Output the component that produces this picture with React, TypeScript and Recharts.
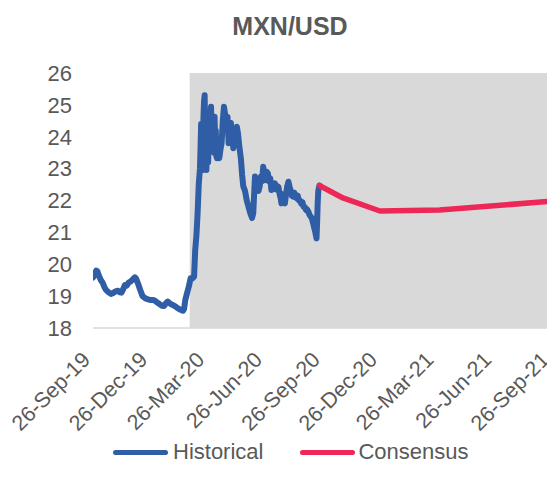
import React from 'react';
import { LineChart, Line, XAxis, YAxis, ReferenceArea } from 'recharts';

// x values are day offsets from 26-Sep-19
const tickDays = [0, 91, 182, 274, 366, 457, 547, 639, 731];
const tickLabels = ['26-Sep-19', '26-Dec-19', '26-Mar-20', '26-Jun-20', '26-Sep-20', '26-Dec-20', '26-Mar-21', '26-Jun-21', '26-Sep-21'];
const yTicks = [18, 19, 20, 21, 22, 23, 24, 25, 26];
const shadeStartDay = 154;

const histDays = [
  0, 2.4, 5.2, 7, 9.8, 12.6, 15.4, 18.2, 21, 24.8, 28.5, 32.2, 36, 39.7, 42.5, 45.3, 48.1, 50.9, 53.7, 56.5, 59.3, 62.1,
  64.9, 66.7, 68.6, 71.4, 75.1, 78.9, 83.5, 87.3,
  91.9, 95.7, 98.5, 102.2, 105.9, 109.7, 113.4, 116.2, 119, 121.8, 124.6, 127.4, 131.1, 134.9, 138.6, 143.2, 145.1, 147,
  149.8, 152.6, 155.4, 158.2, 161, 162.8,
  164.7, 166.6, 168.4, 170.3, 171.2, 172.2, 173.1, 174, 175, 175.9, 176.8, 177.8, 178.7, 179.6, 180.6, 181.5, 182.4, 183.4,
  184.3, 185.2, 186.2, 187.1, 188, 189,
  189.9, 190.8, 191.8, 192.7, 193.6, 194.6, 195.5, 196.4, 197.4, 199.2, 201.1, 203, 204.8, 206.7, 208.6, 210.4, 212.3,
  214.2, 216, 217.9, 219.7, 221.6, 223.5, 225.4,
  227.2, 229.1, 230.9, 232.8, 235.6, 237.5, 239.3, 242.1, 244.9, 247.7, 250.5, 253.3, 255.2, 257.1, 258, 258.9, 260.8,
  262.7, 263.6, 265.5, 267.3, 269.2, 271.1, 272.9,
  274.8, 276.7, 278.5, 280.4, 282.3, 284.1, 286, 287.9, 289.7, 291.6, 293.5, 295.3, 297.2, 299.1, 300, 301.9, 303.7,
  305.6, 307.5, 309.3, 311.2, 313.1, 314.9, 316.8,
  318.7, 320.5, 322.4, 324.2, 326.1, 328, 329.8, 331.7, 333.6, 335.4, 337.3, 339.2, 341, 342.9, 344.8, 346.6, 348.5,
  350.4, 352.2, 354.1, 356, 356.9, 357.8, 358.8, 360.6,
];
const histValues = [
  19.58, 19.65, 19.8, 19.78, 19.62, 19.5, 19.42, 19.28, 19.19, 19.12, 19.07, 19.1, 19.15, 19.17, 19.12, 19.11, 19.22, 19.35,
  19.33, 19.42, 19.45, 19.5, 19.56, 19.59, 19.55, 19.41, 19.2, 19.0, 18.93, 18.9,
  18.88, 18.88, 18.86, 18.8, 18.75, 18.7, 18.69, 18.78, 18.83, 18.78, 18.74, 18.72, 18.68, 18.62, 18.58, 18.54, 18.6, 18.88,
  19.1, 19.3, 19.56, 19.55, 19.61, 20.45,
  20.9, 21.6, 22.5, 23.0, 23.6, 24.4, 23.2, 24.0, 22.96, 24.6, 25.1, 25.3, 24.2, 23.4, 22.96, 23.8, 24.3, 23.2, 24.4, 23.6,
  24.2, 24.7, 24.94, 24.0,
  24.4, 23.7, 24.3, 23.5, 24.63, 23.8, 24.2, 23.4, 23.33, 23.45, 23.33, 23.6, 23.8, 24.5, 24.94, 24.7, 24.4, 24.63, 23.8,
  24.2, 24.43, 24.0, 23.64, 23.9,
  24.2, 24.31, 24.1, 23.74, 23.3, 22.8, 22.45, 22.3, 22.0, 21.8, 21.6, 21.45, 21.6, 22.4, 22.75, 22.4, 22.7, 22.54, 22.3,
  22.45, 22.75, 22.6, 23.06, 22.8,
  22.64, 22.9, 22.85, 22.6, 22.7, 22.33, 22.5, 22.4, 22.54, 22.35, 22.45, 22.43, 22.2, 22.05, 21.91, 22.2, 21.95, 21.91,
  22.2, 22.45, 22.59, 22.43, 22.3, 22.15,
  22.12, 22.25, 22.1, 22.07, 22.15, 22.0, 22.0, 21.9, 21.95, 21.8, 21.8, 21.7, 21.72, 21.65, 21.55, 21.5, 21.44, 21.3,
  21.15, 21.0, 20.81, 21.3, 21.9, 22.3, 22.47,
];

const consDays = [360.6, 398, 457, 552, 731];
const consValues = [22.47, 22.08, 21.67, 21.7, 21.98];

const histData = histDays.map((d, i) => ({ day: d, value: histValues[i] }));
const consData = consDays.map((d, i) => ({ day: d, value: consValues[i] }));

const FONT = '"Liberation Sans", Arial, sans-serif';
const TEXT = '#595959';
const BLUE = '#2F5DA6';
const PINK = '#EE2856';

function XTick(props: any) {
  const { x, y, payload } = props;
  const i = tickDays.indexOf(payload.value);
  return (
    <g transform={`translate(${x - 1.5},${y + 33})`}>
      <text transform="rotate(-45)" textAnchor="end" fill={TEXT} fontSize={21.5} fontFamily={FONT}>
        {i >= 0 ? tickLabels[i] : ''}
      </text>
    </g>
  );
}

export default function App() {
  return (
    <div style={{ position: 'relative', width: 547, height: 483, fontFamily: FONT }}>
      <div
        style={{
          position: 'absolute',
          top: 5,
          left: 282,
          transform: 'translateX(-50%)',
          whiteSpace: 'nowrap',
          fontSize: 25,
          lineHeight: '26px',
          fontWeight: 'bold',
          color: TEXT,
        }}
      >
        MXN/USD
      </div>
      <LineChart width={547} height={483} margin={{ top: 65, right: 3, bottom: 0, left: 0 }} style={{ overflow: 'visible' }}>
        <ReferenceArea x1={shadeStartDay} x2={731} y1={18} y2={26} fill="#D9D9D9" fillOpacity={1} stroke="none" ifOverflow="hidden" />
        <XAxis
          type="number"
          dataKey="day"
          domain={[0, 731]}
          ticks={tickDays}
          interval={0}
          allowDataOverflow
          height={163}
          tickLine={false}
          tickSize={0}
          tickMargin={0}
          axisLine={{ stroke: '#D9D9D9', strokeWidth: 1.5 }}
          tick={<XTick />}
        />
        <YAxis
          type="number"
          domain={[18, 26]}
          ticks={yTicks}
          interval={0}
          width={85}
          axisLine={false}
          tickLine={false}
          tickSize={0}
          tickMargin={21}
          tick={{ fill: TEXT, fontSize: 22, fontFamily: FONT }}
        />
        <Line
          data={histData}
          dataKey="value"
          type="linear"
          stroke={BLUE}
          strokeWidth={6}
          strokeLinejoin="round"
          strokeLinecap="round"
          dot={false}
          isAnimationActive={false}
        />
        <Line
          data={consData}
          dataKey="value"
          type="linear"
          stroke={PINK}
          strokeWidth={5.5}
          strokeLinejoin="round"
          strokeLinecap="round"
          dot={false}
          isAnimationActive={false}
        />
      </LineChart>
      <div style={{ position: 'absolute', top: 432, left: 105, display: 'flex', alignItems: 'center', fontSize: 22, color: TEXT, lineHeight: '24px' }}>
        <span style={{ display: 'inline-block', width: 55, height: 5, borderRadius: 3, background: BLUE, marginRight: 5 }} />
        <span>Historical</span>
        <span style={{ display: 'inline-block', width: 55, height: 5, borderRadius: 3, background: PINK, marginLeft: 37, marginRight: 3 }} />
        <span>Consensus</span>
      </div>
    </div>
  );
}
